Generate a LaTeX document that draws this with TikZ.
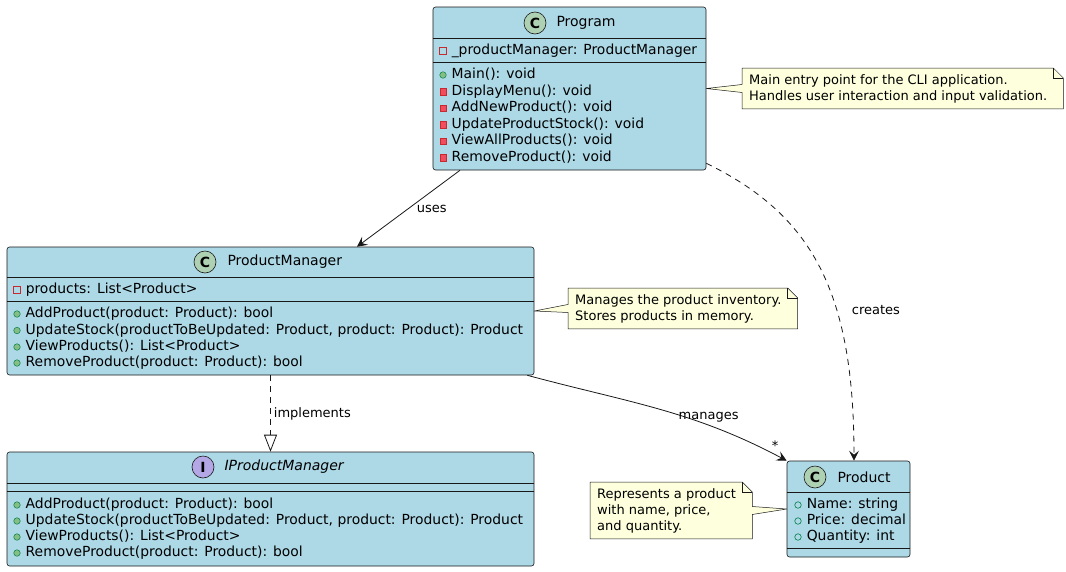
\documentclass[tikz,border=0pt]{standalone}
\usepackage{fontspec}
\setmainfont{DejaVu Sans}
\usepackage{tikz}
\usetikzlibrary{arrows.meta,positioning,backgrounds}
\definecolor{umlBlue}{RGB}{173,216,230}
\definecolor{umlLine}{RGB}{24,24,24}
\definecolor{umlNote}{RGB}{254,255,221}
\definecolor{umlClassC}{RGB}{173,209,178}
\definecolor{umlIfaceI}{RGB}{180,167,229}
\definecolor{umlRed}{RGB}{200,41,48}
\definecolor{umlRedFill}{RGB}{242,77,92}
\definecolor{umlGreen}{RGB}{3,128,72}
\definecolor{umlGreenFill}{RGB}{132,190,132}

\begin{document}
\begin{tikzpicture}[x=1pt, y=-1pt, font=\fontsize{13}{16}\selectfont]%
  \tikzset{class box/.style={draw=umlLine, fill=umlBlue, line width=0.6pt, rounded corners=2.5pt, inner sep=0pt},
    sep line/.style={draw=umlLine, line width=0.6pt},
    head circle/.style={circle, draw=umlLine, line width=0.6pt, minimum size=22pt, inner sep=0pt, font=\fontsize{14}{14}\selectfont\bfseries},
    head text/.style={inner sep=0pt, font=\fontsize{14}{16}\selectfont},
    member/.style={inner sep=0pt, text height=10pt, text depth=3pt, font=\fontsize{13.9}{16}\selectfont},
    pubm/.style={circle, fill=umlGreenFill, draw=umlGreen, line width=0.5pt, minimum size=6.5pt, inner sep=0pt},
    pubf/.style={circle, draw=umlGreen, line width=0.6pt, minimum size=6.5pt, inner sep=0pt},
    privm/.style={rectangle, fill=umlRedFill, draw=umlRed, line width=0.5pt, minimum size=6.5pt, inner sep=0pt},
    privf/.style={rectangle, draw=umlRed, line width=0.6pt, minimum size=6.5pt, inner sep=0pt},
    note text/.style={anchor=north west, align=left, inner xsep=7pt, inner ysep=6pt},
    note shape/.style={draw=umlLine, fill=umlNote, line width=0.5pt},
    assoc/.style={draw=umlLine, line width=0.8pt, -{Stealth[length=10pt, width=10pt, inset=4pt]}},
    depend/.style={assoc, dash pattern=on 6pt off 5pt},
    realize/.style={draw=umlLine, line width=0.8pt, dash pattern=on 6pt off 5pt, -{Triangle[open, length=17pt, width=13pt]}},
    lbl/.style={inner sep=2pt}}
  \useasboundingbox (0,0) rectangle (1066,571);

  % Program
  \node[class box, minimum width=273pt, minimum height=163pt] (prog) at (569.5,88.5) {};
  \draw[sep line] ([yshift=-32pt]prog.north west) -- ([yshift=-32pt]prog.north east);
  \draw[sep line] ([yshift=-56pt]prog.north west) -- ([yshift=-56pt]prog.north east);
  \node[head circle, fill=umlClassC] (prog-c) at (535,23) {C};
  \node[head text, right=10pt of prog-c] (prog-name) {Program};
  \foreach \ic/\nm/\y/\txt in {privf/mgr/51/{\_productManager: ProductManager},
      pubm/main/75/{Main(): void}, privm/menu/91.5/{DisplayMenu(): void},
      privm/add/108/{AddNewProduct(): void}, privm/upd/124.5/{UpdateProductStock(): void},
      privm/view/141/{ViewAllProducts(): void}, privm/rem/157.5/{RemoveProduct(): void}}
    {\node[\ic] (prog-\nm-ic) at (443,\y) {};
     \node[member, right=5pt of prog-\nm-ic] (prog-\nm) {\txt};}

  % ProductManager
  \node[class box, minimum width=527pt, minimum height=128pt] (pm) at (270.5,311) {};
  \draw[sep line] ([yshift=-31pt]pm.north west) -- ([yshift=-31pt]pm.north east);
  \draw[sep line] ([yshift=-55pt]pm.north west) -- ([yshift=-55pt]pm.north east);
  \node[head circle, fill=umlClassC] (pm-c) at (205,262) {C};
  \node[head text, right=11pt of pm-c] (pm-name) {ProductManager};
  \foreach \ic/\nm/\y/\txt in {privf/list/290/{products: List<Product>},
      pubm/add/314/{AddProduct(product: Product): bool},
      pubm/upd/330.5/{UpdateStock(productToBeUpdated: Product, product: Product): Product},
      pubm/view/347/{ViewProducts(): List<Product>}, pubm/rem/363/{RemoveProduct(product: Product): bool}}
    {\node[\ic] (pm-\nm-ic) at (17,\y) {};
     \node[member, right=5pt of pm-\nm-ic] (pm-\nm) {\txt};}

  % IProductManager
  \node[class box, minimum width=527pt, minimum height=114pt] (ipm) at (270.5,509) {};
  \draw[sep line] ([yshift=-32pt]ipm.north west) -- ([yshift=-32pt]ipm.north east);
  \draw[sep line] ([yshift=-40pt]ipm.north west) -- ([yshift=-40pt]ipm.north east);
  \node[head circle, fill=umlIfaceI] (ipm-i) at (203,467) {I};
  \node[head text, right=10pt of ipm-i, font=\fontsize{14}{16}\selectfont\itshape] (ipm-name) {IProductManager};
  \foreach \ic/\nm/\y/\txt in {pubm/add/505/{AddProduct(product: Product): bool},
      pubm/upd/521/{UpdateStock(productToBeUpdated: Product, product: Product): Product},
      pubm/view/537/{ViewProducts(): List<Product>}, pubm/rem/553/{RemoveProduct(product: Product): bool}}
    {\node[\ic] (ipm-\nm-ic) at (17,\y) {};
     \node[member, right=5pt of ipm-\nm-ic] (ipm-\nm) {\txt};}

  % Product
  \node[class box, minimum width=123pt, minimum height=96pt] (prod) at (848.5,509) {};
  \draw[sep line] ([yshift=-32pt]prod.north west) -- ([yshift=-32pt]prod.north east);
  \draw[sep line] ([yshift=-88pt]prod.north west) -- ([yshift=-88pt]prod.north east);
  \node[head circle, fill=umlClassC] (prod-c) at (815,477) {C};
  \node[head text, right=11pt of prod-c] (prod-name) {Product};
  \foreach \ic/\nm/\y/\txt in {pubf/name/505/{Name: string}, pubf/price/521/{Price: decimal},
      pubf/qty/537/{Quantity: int}}
    {\node[\ic] (prod-\nm-ic) at (798,\y) {};
     \node[member, right=5pt of prod-\nm-ic] (prod-\nm) {\txt};}

  % notes
  \node[note text] (progNote) at (742,68) {Main entry point for the CLI application.\\Handles user interaction and input validation.};
  \node[note text] (pmNote) at (568,288) {Manages the product inventory.\\Stores products in memory.};
  \node[note text] (prodNote) at (590,482) {Represents a product\\with name, price,\\and quantity.};
  \begin{scope}[on background layer]
    \foreach \n/\t in {progNote/prog.east, pmNote/pm.east}
      {\path[note shape] (\n.north west) -- ([xshift=-1pt]\n.north east) -- ([xshift=9pt, yshift=-10pt]\n.north east)
         -- ([xshift=9pt]\n.south east) -- (\n.south west) -- ([yshift=-4pt]\n.west) -- (\t) -- ([yshift=4pt]\n.west) -- cycle;
       \draw[note shape, fill=none] ([xshift=-1pt]\n.north east) |- ([xshift=9pt, yshift=-10pt]\n.north east);}
    \path[note shape] (prodNote.north west) -- ([xshift=-1pt]prodNote.north east) -- ([xshift=9pt, yshift=-10pt]prodNote.north east)
       -- ([xshift=9pt, yshift=4pt]prodNote.east) -- (prod.west) -- ([xshift=9pt, yshift=-4pt]prodNote.east)
       -- ([xshift=9pt]prodNote.south east) -- (prodNote.south west) -- cycle;
    \draw[note shape, fill=none] ([xshift=-1pt]prodNote.north east) |- ([xshift=9pt, yshift=-10pt]prodNote.north east);
  \end{scope}

  % relations
  \draw[assoc] ([xshift=-109.5pt]prog.south) -- node[lbl, right=6pt] {uses} ([xshift=86.5pt]pm.north);
  \draw[depend] ([yshift=7pt]prog.south east) to[out=-26, in=90, out distance=117pt, in distance=170pt]
     node[lbl, pos=0.64, right=13pt] {creates} ([xshift=5.5pt]prod.north);
  \draw[assoc] ([xshift=-7pt]pm.south east) to[out=-15, in=152]
     node[lbl, pos=0.7, above=1pt] (mgLbl) {manages} (prod.north west);
  \node[lbl] (mgStar) at (775,446) {*};
  \draw[realize] (pm.south) -- node[lbl, right=1pt] {implements} (ipm.north);
\end{tikzpicture}
\end{document}
